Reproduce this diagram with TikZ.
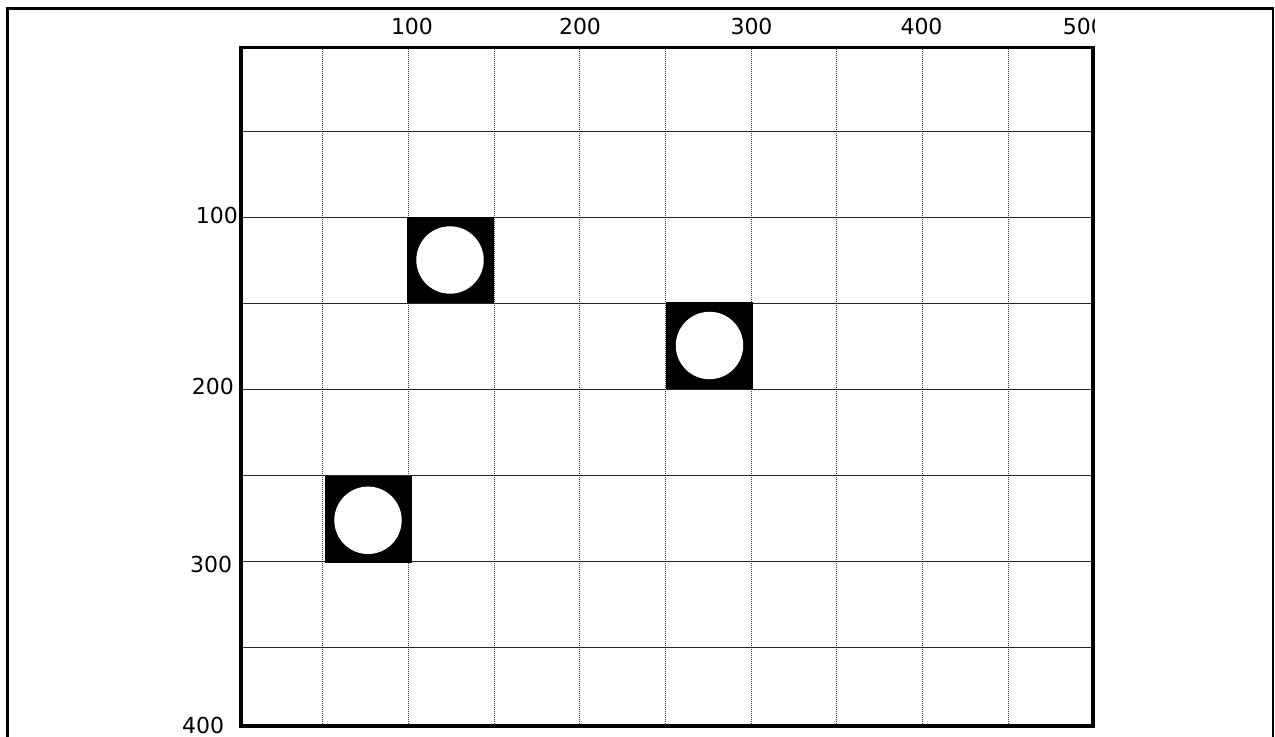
\documentclass[tikz,border=0pt]{standalone}
\usepackage{fontspec}
\setmainfont{DejaVu Sans}
\tikzset{
  gridh/.style={line width=0.5pt, draw=black!85},
  gridv/.style={line width=0.5pt, draw=black!75, dash pattern=on 0.5pt off 0.5pt},
  lbl/.style={inner sep=0pt, font=\fontsize{11pt}{13pt}\selectfont},
  blk/.style={fill=black},
  hole/.style={fill=white},
}
\begin{document}
\begin{tikzpicture}[x=0.5pt,y=-0.5pt]
\useasboundingbox (0,0) rectangle (1275,737);
\clip (0,0) rectangle (1275,737);
% outer frame
\draw[line width=1.25pt] (7.5,8.5) rectangle (1273,800);
% grid lines
\foreach \i in {0,...,8} {
  \draw[gridv] (322.7+85.7*\i,49) -- (322.7+85.7*\i,724);
}
\foreach \j in {0,...,6} {
  \draw[gridh] (242,131.9+86*\j) -- (1091,131.9+86*\j);
}
% blocks
\fill[blk] (407,217) rectangle (494,303.5);
\fill[hole] (450,260) circle (33.7);
\fill[blk] (665.5,302.5) rectangle (752.5,389);
\fill[hole] (709.5,345.5) circle (33.7);
\fill[blk] (325,476.5) rectangle (411.5,563);
\fill[hole] (368,520.3) circle (33.7);
% frame of the field
\draw[line width=1.75pt] (240.8,47.5) rectangle (1093,726);
% axis labels
\node[lbl] (x100) at (412,26.7) {100};
\node[lbl] (x200) at (580,26.7) {200};
\node[lbl] (x300) at (751.5,26.7) {300};
\node[lbl] (x400) at (921.5,26.7) {400};
\begin{scope}
\clip (0,0) rectangle (1094,737);
\node[lbl, anchor=west] (x500) at (1062.5,26.7) {500};
\end{scope}
\node[lbl, anchor=east] (y100) at (238.2,215) {100};
\node[lbl, anchor=east] (y200) at (234.2,386.7) {200};
\node[lbl, anchor=east] (y300) at (232.5,564.5) {300};
\node[lbl, anchor=east] (y400) at (224.5,725.7) {400};
\end{tikzpicture}
\end{document}
